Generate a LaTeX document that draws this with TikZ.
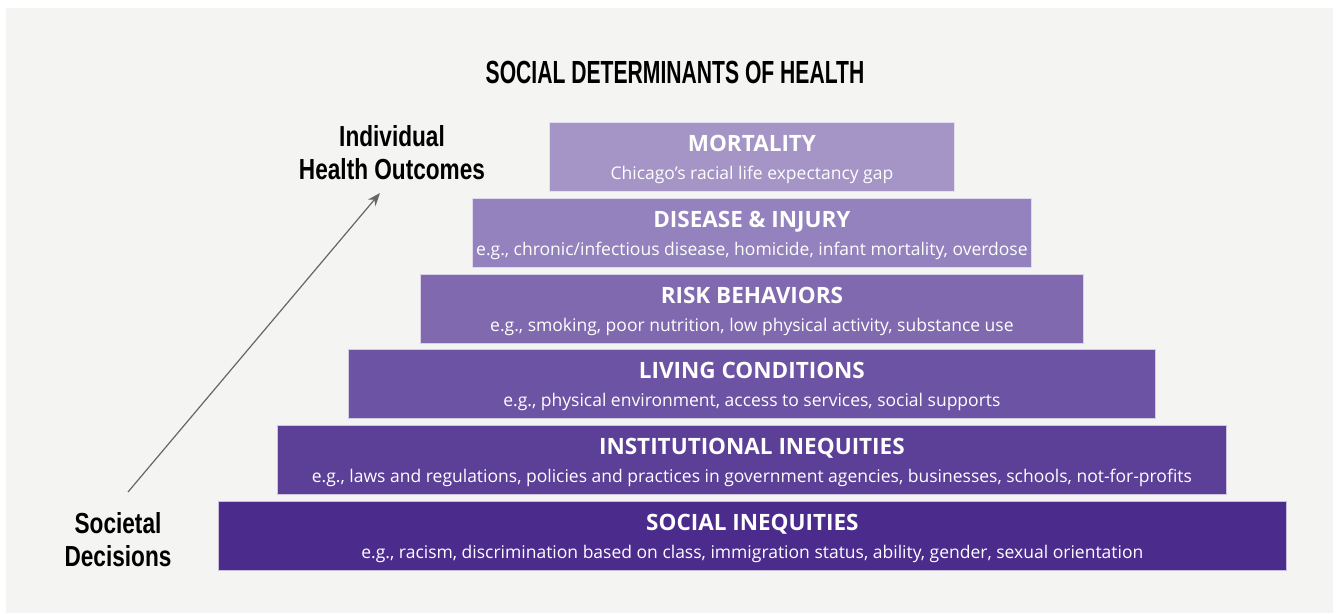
\documentclass[tikz,border=0pt]{standalone}
\usepackage{fontspec}
\setmainfont{Open Sans}
\newfontfamily\titlefont[FakeStretch=0.66]{Liberation Sans}
\newfontfamily\sidefont[FakeStretch=0.78]{Liberation Sans}
\definecolor{panel}{HTML}{F4F4F2}
\definecolor{tierA}{HTML}{A594C6}
\definecolor{tierB}{HTML}{9382BD}
\definecolor{tierC}{HTML}{8069AF}
\definecolor{tierD}{HTML}{6D53A3}
\definecolor{tierE}{HTML}{5C3F97}
\definecolor{tierF}{HTML}{4B2B8C}
\usetikzlibrary{arrows.meta}
\newcommand{\tierhead}[1]{\rule{0pt}{22pt}{\bfseries\fontsize{22.5}{22.5}\selectfont #1}}
\begin{document}
\begin{tikzpicture}[x=1pt,y=-1pt]

\tikzset{tier/.style={fill=#1,draw=white!70!#1,line width=0.8pt,text=white,align=center,
    minimum height=69pt,inner sep=0pt,anchor=north west,font=\fontsize{17.5}{28}\selectfont},
    side/.style={font=\sidefont\bfseries\fontsize{29}{33}\selectfont,align=center}}

\useasboundingbox (0,0) rectangle (1338,613);
\fill[panel] (6,8) rectangle (1333,613);

\node[font=\titlefont\bfseries\fontsize{32}{32}\selectfont] (title) at (675,72) {SOCIAL DETERMINANTS OF HEALTH};

\node[tier=tierA,minimum width=405pt] (mort) at (549,122)
    {\tierhead{MORTALITY}\\Chicago’s racial life expectancy gap};
\node[tier=tierB,minimum width=559pt] (dis) at (472,198)
    {\tierhead{DISEASE \& INJURY}\\e.g., chronic/infectious disease, homicide, infant mortality, overdose};
\node[tier=tierC,minimum width=663pt] (risk) at (420,274)
    {\tierhead{RISK BEHAVIORS}\\e.g., smoking, poor nutrition, low physical activity, substance use};
\node[tier=tierD,minimum width=807pt] (liv) at (348,349)
    {\tierhead{LIVING CONDITIONS}\\e.g., physical environment, access to services, social supports};
\node[tier=tierE,minimum width=949pt] (inst) at (277,425)
    {\tierhead{INSTITUTIONAL INEQUITIES}\\e.g., laws and regulations, policies and practices in government agencies, businesses, schools, not-for-profits};
\node[tier=tierF,minimum width=1068pt] (soc) at (218,501)
    {\tierhead{SOCIAL INEQUITIES}\\e.g., racism, discrimination based on class, immigration status, ability, gender, sexual orientation};

\node[side] (indiv) at (392,153) {Individual\\Health Outcomes};
\node[side] (soci) at (118,540) {Societal\\Decisions};

\coordinate (from) at (128,492);
\coordinate (to) at (380,193);
\draw[gray!80!black,line width=1.2pt,-{Stealth[length=13pt,width=10pt]}] (from) -- (to);

\end{tikzpicture}
\end{document}
